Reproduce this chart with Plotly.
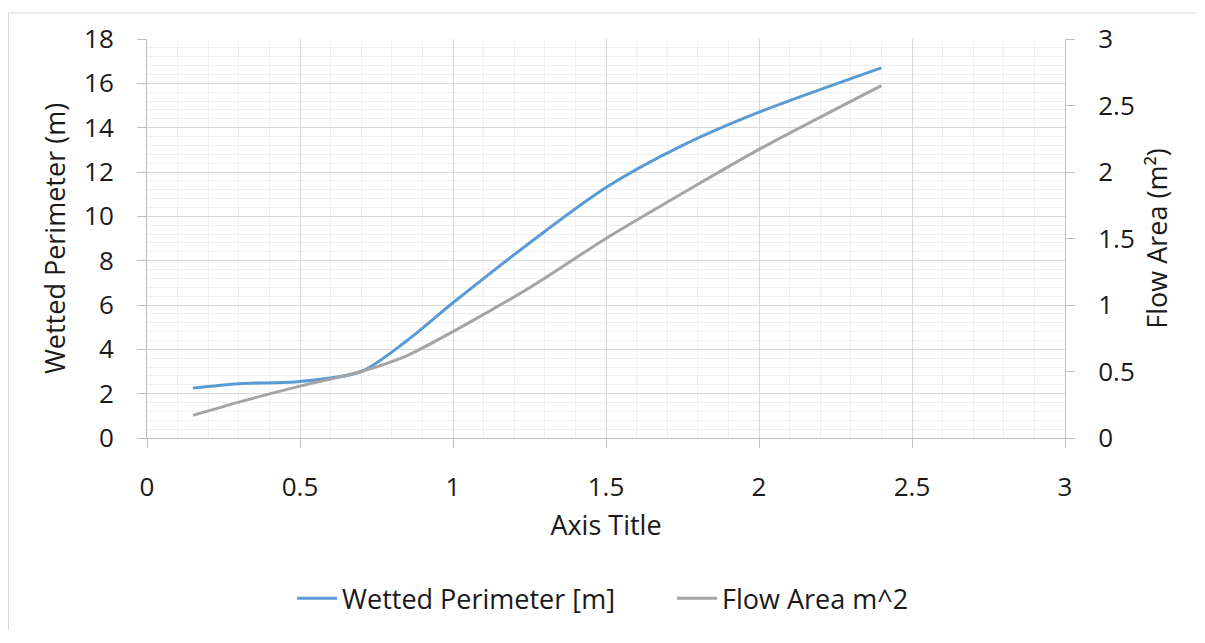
import plotly.graph_objects as go

depth = [0.15, 0.3, 0.5, 0.7, 0.85, 1.0, 1.25, 1.5, 1.75, 2.0, 2.4]
wetted_perimeter = [2.25, 2.45, 2.55, 3.0, 4.4, 6.1, 8.8, 11.3, 13.2, 14.7, 16.7]
flow_area = [0.17, 0.27, 0.39, 0.5, 0.62, 0.8, 1.13, 1.5, 1.84, 2.17, 2.65]

font_family = 'Open Sans, Noto Sans, sans-serif'
text_color = '#1a1a1a'
major_grid = '#d9d9d9'
minor_grid = '#efefef'
axis_line = '#bfbfbf'

# page body has an 8px margin, so the figure is shrunk by that amount
fig_w, fig_h = 1189, 627
m_l, m_r, m_t, m_b = 139, 132, 27, 195
plot_w = fig_w - m_l - m_r
plot_h = fig_h - m_t - m_b

fig = go.Figure()

fig.add_trace(go.Scatter(
    x = depth, y = wetted_perimeter,
    name = 'Wetted Perimeter [m]',
    mode = 'lines',
    line = dict(color = '#5b9bd5', width = 3, shape = 'spline', smoothing = 0.8)))

fig.add_trace(go.Scatter(
    x = depth, y = flow_area,
    name = 'Flow Area m^2',
    yaxis = 'y2',
    mode = 'lines',
    line = dict(color = '#a5a5a5', width = 3, shape = 'spline', smoothing = 0.8)))

tick_font = dict(family = font_family, size = 26, color = text_color)
title_font = dict(family = font_family, size = 27, color = text_color)

fig.update_layout(
    width = fig_w, height = fig_h,
    margin = dict(l = m_l, r = m_r, t = m_t, b = m_b),
    paper_bgcolor = 'white',
    plot_bgcolor = 'white',
    font = dict(family = font_family, size = 26, color = text_color),
    showlegend = True,
    legend = dict(orientation = 'h', x = 0.158, xanchor = 'left',
                  y = -0.4025, yanchor = 'middle',
                  font = dict(family = font_family, size = 27, color = text_color),
                  entrywidth = 325, entrywidthmode = 'pixels',
                  itemwidth = 40, tracegroupgap = 0),
    xaxis = dict(
        range = [0, 3], dtick = 0.5, tick0 = 0,
        showgrid = True, gridcolor = major_grid, gridwidth = 1,
        minor = dict(dtick = 0.1, showgrid = True, gridcolor = minor_grid),
        showline = True, linecolor = axis_line, linewidth = 1,
        ticks = 'outside', ticklen = 9, tickcolor = axis_line,
        ticklabelstandoff = 17, tickfont = tick_font,
        zeroline = False,
        title = dict(text = 'Axis Title', standoff = 12, font = title_font)),
    yaxis = dict(
        range = [0, 18], dtick = 2, tick0 = 0,
        showgrid = True, gridcolor = major_grid, gridwidth = 1,
        minor = dict(dtick = 0.4, showgrid = True, gridcolor = minor_grid),
        showline = True, linecolor = axis_line, linewidth = 1,
        ticks = 'outside', ticklen = 9, tickcolor = axis_line,
        ticklabelstandoff = 18, tickfont = tick_font,
        zeroline = False,
        title = dict(text = 'Wetted Perimeter (m)', standoff = 10, font = title_font)),
    yaxis2 = dict(
        range = [0, 3], dtick = 0.5, tick0 = 0,
        overlaying = 'y', side = 'right',
        showgrid = False, zeroline = False,
        showline = True, linecolor = axis_line, linewidth = 1,
        ticks = 'outside', ticklen = 9, tickcolor = axis_line,
        ticklabelstandoff = 18, tickfont = tick_font,
        title = dict(text = 'Flow Area (m²)', standoff = 14, font = title_font)),
)

# light frame lines along the top and left of the chart area
fig.add_shape(type = 'line', xref = 'paper', yref = 'paper',
              x0 = (0.5 - m_l) / plot_w, x1 = (fig_w - m_l) / plot_w,
              y0 = (fig_h - m_b - 0.5) / plot_h, y1 = (fig_h - m_b - 0.5) / plot_h,
              line = dict(color = '#d9d9d9', width = 1), layer = 'below')
fig.add_shape(type = 'line', xref = 'paper', yref = 'paper',
              x0 = (0.5 - m_l) / plot_w, x1 = (0.5 - m_l) / plot_w,
              y0 = -m_b / plot_h, y1 = (fig_h - m_b) / plot_h,
              line = dict(color = '#d9d9d9', width = 1), layer = 'below')

fig.write_html('out.html')
